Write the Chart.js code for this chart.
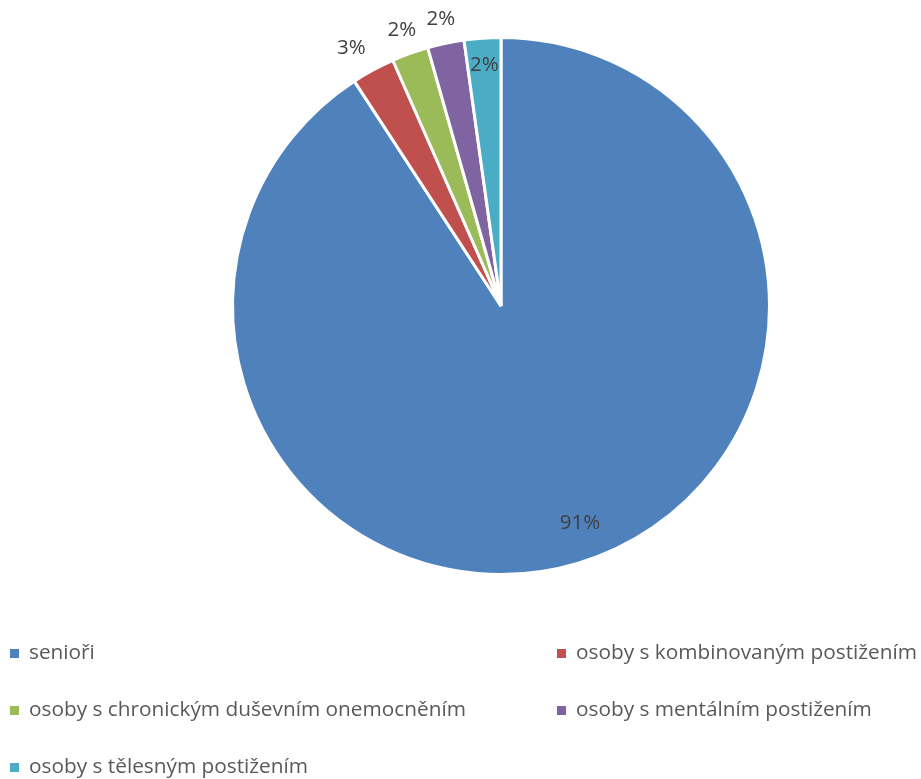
<!DOCTYPE html>
<html>
<head>
<meta charset="utf-8">
<script src="https://cdn.jsdelivr.net/npm/chart.js@4"></script>
<style>
  html, body { margin: 0; padding: 0; background: #fff; }
  #wrap { width: 921px; height: 779px; position: relative; }
</style>
</head>
<body>
<div id="wrap"><canvas id="pieChart" width="921" height="779"></canvas></div>
<script>
// data (shares in %)
const categories = [
  "senioři",
  "osoby s kombinovaným postižením",
  "osoby s chronickým duševním onemocněním",
  "osoby s mentálním postižením",
  "osoby s tělesným postižením"
];
const shares = [90.8, 2.6, 2.2, 2.2, 2.2];
const shareLabels = ["91%", "3%", "2%", "2%", "2%"];
const colors = ["#4F81BD", "#C0504D", "#9BBB59", "#8064A2", "#4BACC6"];

const FONT = "'Open Sans', 'Liberation Sans', sans-serif";

// where each label sits, as a fraction of the radius
const labelRadius = [0.86, 1.11, 1.09, 1.09, 0.9];
const labelAngleShift = [-0.06, -0.03, 0, 0, 0];

const pieLabels = {
  id: "pieLabels",
  afterDatasetsDraw(chart) {
    const c = chart.ctx;
    const arcs = chart.getDatasetMeta(0).data;
    c.save();
    c.font = "20.5px " + FONT;
    c.fillStyle = "#404040";
    c.textAlign = "center";
    c.textBaseline = "middle";
    arcs.forEach((arc, i) => {
      const mid = (arc.startAngle + arc.endAngle) / 2 + labelAngleShift[i];
      const r = arc.outerRadius * labelRadius[i];
      c.fillText(shareLabels[i], arc.x + Math.cos(mid) * r, arc.y + Math.sin(mid) * r);
    });
    c.restore();
  }
};

// legend in two columns, drawn below the pie
const gridLegend = {
  id: "gridLegend",
  afterDraw(chart) {
    const c = chart.ctx;
    const colX = [10, 557];
    const rowY = [653, 710, 767];
    c.save();
    c.font = "20.8px " + FONT;
    c.textBaseline = "middle";
    c.textAlign = "left";
    categories.forEach((name, i) => {
      const x = colX[i % 2];
      const y = rowY[Math.floor(i / 2)];
      c.fillStyle = colors[i];
      c.fillRect(x, y - 4, 9, 9);
      c.fillStyle = "#595959";
      c.fillText(name, x + 19, y);
    });
    c.restore();
  }
};

new Chart(document.getElementById("pieChart"), {
  type: "pie",
  data: {
    labels: categories,
    datasets: [{
      data: shares,
      backgroundColor: colors,
      borderColor: "#ffffff",
      borderWidth: 3
    }]
  },
  options: {
    responsive: false,
    animation: false,
    layout: { padding: { left: 231, right: 150, top: 36, bottom: 203 } },
    plugins: {
      legend: { display: false },
      tooltip: { enabled: false }
    }
  },
  plugins: [pieLabels, gridLegend]
});
</script>
</body>
</html>
